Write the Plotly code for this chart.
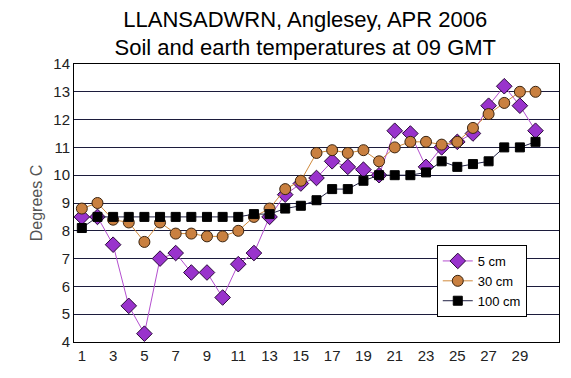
import plotly.graph_objects as go

days = list(range(1, 31))
t5 = [8.5, 8.5, 7.5, 5.3, 4.3, 7.0, 7.2, 6.5, 6.5, 5.6,
      6.8, 7.2, 8.5, 9.3, 9.7, 9.9, 10.5, 10.3, 10.2, 10.0,
      11.6, 11.5, 10.3, 11.0, 11.2, 11.5, 12.5, 13.2, 12.5, 11.6]
t30 = [8.8, 9.0, 8.4, 8.3, 7.6, 8.3, 7.9, 7.9, 7.8, 7.8,
       8.0, 8.5, 8.8, 9.5, 9.8, 10.8, 10.9, 10.8, 10.9, 10.5,
       11.0, 11.2, 11.2, 11.1, 11.2, 11.7, 12.2, 12.6, 13.0, 13.0]
t100 = [8.1, 8.5, 8.5, 8.5, 8.5, 8.5, 8.5, 8.5, 8.5, 8.5,
        8.5, 8.6, 8.6, 8.8, 8.9, 9.1, 9.5, 9.5, 9.8, 10.0,
        10.0, 10.0, 10.1, 10.5, 10.3, 10.4, 10.5, 11.0, 11.0, 11.2]
xticks = list(range(1, 30, 2))
yticks = list(range(4, 15))

font = "Liberation Sans, Arial, sans-serif"

fig = go.Figure()
fig.add_trace(go.Scatter(x=days, y=t5, name="5 cm", mode="lines+markers",
                         line=dict(color="#b44fcf", width=1),
                         marker=dict(symbol="diamond", size=12, color="#9933cc",
                                     line=dict(color="#2a0a3a", width=1))))
fig.add_trace(go.Scatter(x=days, y=t30, name="30 cm", mode="lines+markers",
                         line=dict(color="#d08a3c", width=1),
                         marker=dict(symbol="circle", size=11, color="#c98040",
                                     line=dict(color="#3a2410", width=1))))
fig.add_trace(go.Scatter(x=days, y=t100, name="100 cm", mode="lines+markers",
                         line=dict(color="#222244", width=1),
                         marker=dict(symbol="square", size=9, color="#000000",
                                     line=dict(color="#000000", width=1))))

fig.update_layout(
    width=563, height=370,
    margin=dict(l=66, r=12, t=56, b=36, autoexpand=False),
    paper_bgcolor="white", plot_bgcolor="white",
    font=dict(family=font, color="#222222"),
    title=dict(text="LLANSADWRN, Anglesey, APR 2006<br>Soil and earth temperatures at 09 GMT",
               x=0.528, xanchor="center", y=0.949, yanchor="middle",
               font=dict(size=22, color="#000000", family=font)),
    showlegend=True,
    legend=dict(x=0.748, y=0.349, xanchor="left", yanchor="top",
                bgcolor="white", bordercolor="#000000", borderwidth=1,
                font=dict(size=13, color="#000000", family=font),
                tracegroupgap=0, itemwidth=30),
    xaxis=dict(range=[0.5, 31.5], tickvals=xticks, ticktext=[str(v) for v in xticks],
               showgrid=False, zeroline=False, showline=True, linecolor="#000000",
               linewidth=1, mirror=True, ticks="", automargin=False,
               tickfont=dict(size=15, color="#222222")),
    yaxis=dict(range=[4, 14], tickvals=yticks, showgrid=True, gridcolor="#1c1c3c",
               gridwidth=1, zeroline=False, showline=True, linecolor="#000000",
               linewidth=1, mirror=True, ticks="", automargin=False,
               tickfont=dict(size=15, color="#222222"),
               title=dict(text="Degrees C", font=dict(size=16, color="#555555"), standoff=6)),
)

fig.write_html("out.html")
